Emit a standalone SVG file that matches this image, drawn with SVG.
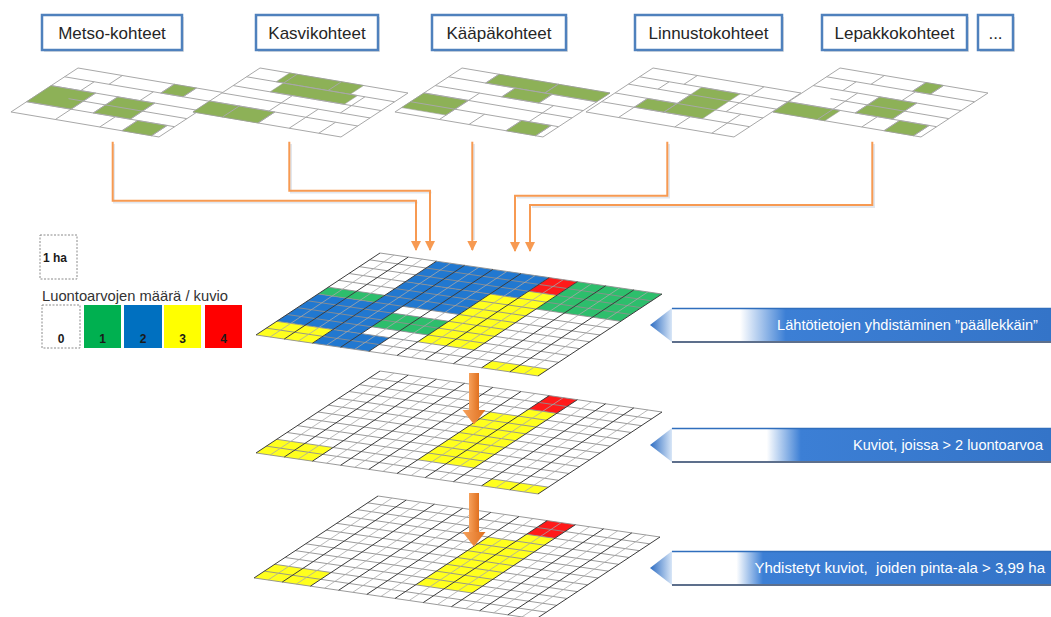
<svg xmlns="http://www.w3.org/2000/svg" width="1051" height="617" viewBox="0 0 1051 617">
<style>
text{font-family:"Liberation Sans",Arial,sans-serif}
.lbl .sh{fill:#e3e3e3;stroke:none}
.lbl .bx{fill:#fff;stroke:#4f81bd;stroke-width:2.5}
.lbl text{font-size:17px;fill:#262626;text-anchor:middle}
.fr{fill:#fff;stroke:#a8a8a8;stroke-width:1;vector-effect:non-scaling-stroke}
.ln{fill:none;stroke:#a8a8a8;stroke-width:1;vector-effect:non-scaling-stroke}
.gn{fill:#8db157;stroke:#a0a0a0;stroke-width:0.6;vector-effect:non-scaling-stroke}
.gb{fill:#2178d0}.gg{fill:#2dbe6c}.gy{fill:#ffff1e}.gr{fill:#ff1a1a}.gw{fill:#fff}
.rl{fill:none;stroke:#8f8f8f;stroke-width:0.9;vector-effect:non-scaling-stroke}
.sl{fill:none;stroke:#a8a8a8;stroke-width:0.8;vector-effect:non-scaling-stroke}
.ml{fill:none;stroke:#3c3c3c;stroke-width:1;vector-effect:non-scaling-stroke}
.conn{fill:none;stroke:#f79a52;stroke-width:2}
.csh{fill:none;stroke:#e2e7ee;stroke-width:2}
.bn text{font-size:15px;fill:#fff;text-anchor:end}
.bn .top{stroke:#2f6ebd;stroke-width:1.5}
.bn .bot{stroke:#5d6f8c;stroke-width:2}
.leg{stroke:#8a8a8a;stroke-width:1;stroke-dasharray:2 1.5}
.legn{font-size:12px;font-weight:bold;fill:#1a1a1a;text-anchor:middle}
</style>
<defs>
<marker id="ah" viewBox="0 0 10 10" refX="9" refY="5" markerUnits="userSpaceOnUse" markerWidth="10" markerHeight="10" orient="auto">
<path d="M0 0L10 5L0 10z" fill="#f79a52"/>
</marker>
<linearGradient id="og" x1="0" y1="0" x2="1" y2="0">
<stop offset="0" stop-color="#f6a15c"/><stop offset="1" stop-color="#e0701e"/>
</linearGradient>
<linearGradient id="tri" x1="0" y1="0" x2="1" y2="0">
<stop offset="0" stop-color="#2c6cc2"/><stop offset="1" stop-color="#d8e6f7"/>
</linearGradient>
<linearGradient id="bg1" x1="0" y1="0" x2="1" y2="0">
<stop offset="0" stop-color="#fff"/><stop offset="0.18" stop-color="#fff"/><stop offset="0.3" stop-color="#3c7fd5"/><stop offset="1" stop-color="#3474c8"/>
</linearGradient>
<linearGradient id="bg2" x1="0" y1="0" x2="1" y2="0">
<stop offset="0" stop-color="#fff"/><stop offset="0.25" stop-color="#fff"/><stop offset="0.34" stop-color="#3c7fd5"/><stop offset="1" stop-color="#3474c8"/>
</linearGradient>
<linearGradient id="bg3" x1="0" y1="0" x2="1" y2="0">
<stop offset="0" stop-color="#fff"/><stop offset="0.17" stop-color="#fff"/><stop offset="0.24" stop-color="#3c7fd5"/><stop offset="1" stop-color="#3474c8"/>
</linearGradient>
<g id="mlines">
<path class="rl" d="M0 0H20M0 1H20M0 2H20M0 3H20M0 4H20M0 5H20M0 6H20M0 7H20M0 8H20M0 9H20M0 10H20M0 11H20M0 12H20"/>
<path class="sl" d="M1 0V12M3 0V12M5 0V12M7 0V12M9 0V12M11 0V12M13 0V12M15 0V12M17 0V12M19 0V12"/>
<path class="ml" d="M0 0V12M2 0V12M4 0V12M6 0V12M8 0V12M10 0V12M12 0V12M14 0V12M16 0V12M18 0V12M20 0V12"/>
</g>
</defs>

<g id="label-metso" class="lbl"><rect class="sh" x="44" y="17" width="140" height="35"/><rect class="bx" x="42" y="15" width="140" height="35"/><text x="112" y="39">Metso-kohteet</text></g>
<g id="label-kasvi" class="lbl"><rect class="sh" x="258" y="17" width="122" height="35"/><rect class="bx" x="256" y="15" width="122" height="35"/><text x="317" y="39">Kasvikohteet</text></g>
<g id="label-kaapa" class="lbl"><rect class="sh" x="434" y="17" width="134" height="35"/><rect class="bx" x="432" y="15" width="134" height="35"/><text x="499" y="39">Kääpäkohteet</text></g>
<g id="label-linnusto" class="lbl"><rect class="sh" x="637" y="17" width="147" height="35"/><rect class="bx" x="635" y="15" width="147" height="35"/><text x="708.5" y="39">Linnustokohteet</text></g>
<g id="label-lepakko" class="lbl"><rect class="sh" x="824" y="17" width="145" height="35"/><rect class="bx" x="822" y="15" width="145" height="35"/><text x="894.5" y="39">Lepakkokohteet</text></g>
<g id="label-more" class="lbl"><rect class="sh" x="980" y="17" width="35" height="35"/><rect class="bx" x="978" y="15" width="35" height="35"/><text x="995.5" y="39">...</text></g>

<g id="map-metso" transform="matrix(14.8 2.5 -11.17 7.33 78 68)">
<rect class="fr" width="10" height="6"/>
<rect class="gn" x="0" y="2.4" width="3" height="2.2"/><rect class="gn" x="6.5" y="0" width="1.5" height="1.2"/><rect class="gn" x="4.5" y="2.4" width="2.5" height="2.2"/><rect class="gn" x="7.5" y="4.6" width="2" height="1.4"/>
<path class="ln" d="M0 1.2H10M0 2.4H10M2 3.5H10M0 4.6H10M3 0V1.2M6.5 0V1.2M8 0V1.2M2 1.2V2.4M6 1.2V2.4M3 2.4V6M4.5 2.4V4.6M7 2.4V4.6M6 4.6V6M7.5 4.6V6M9.5 4.6V6"/>
</g>
<g id="map-kasvi" transform="matrix(14.8 2.5 -11.17 7.33 260 68)">
<rect class="fr" width="10" height="6"/>
<rect class="gn" x="2" y="0" width="5" height="1.2"/><rect class="gn" x="2.5" y="1.2" width="5" height="1.2"/><rect class="gn" x="0" y="4.5" width="4.4" height="1.5"/>
<path class="ln" d="M0 1.2H10M0 2.4H10M0 3.4H10M0 4.5H10M2.5 0V1.2M5.5 0V1.2M8 1.2V3.4M4 2.4V4.5M6.5 3.4V6M2 4.5V6M4.4 4.5V6M8.5 4.5V6"/>
</g>
<g id="map-kaapa" transform="matrix(14.8 2.5 -11.17 7.33 462 68)">
<rect class="fr" width="10" height="6"/>
<rect class="gn" x="0" y="3.4" width="3" height="2"/><rect class="gn" x="2.5" y="0" width="4" height="1.2"/><rect class="gn" x="6.5" y="0" width="3.5" height="1.2"/><rect class="gn" x="4.5" y="1.2" width="2.5" height="1.2"/><rect class="gn" x="7.5" y="4.6" width="2" height="1.4"/>
<path class="ln" d="M0 1.2H10M0 2.4H10M0 3.4H10M0 4.6H10M2.5 0V1.2M6.5 0V1.2M4.5 1.2V2.4M7 1.2V2.4M3 2.4V3.4M8 2.4V4.6M3 3.4V6M5 4.6V6M7.5 4.6V6M9.5 4.6V6"/>
</g>
<g id="map-linnusto" transform="matrix(14.8 2.5 -11.17 7.33 653 68)">
<rect class="fr" width="10" height="6"/>
<rect class="gn" x="2.2" y="3.4" width="2" height="1.2"/><rect class="gn" x="4.2" y="1.2" width="2.6" height="3.4"/>
<path class="ln" d="M0 1.2H10M0 2.2H10M0 3.4H10M0 4.6H10M3 0V1.2M7.5 0V2.2M2 1.2V2.2M4.2 2.2V4.6M7.5 2.2V3.4M2.2 3.4V6M6 4.6V6M8.5 3.4V6"/>
</g>
<g id="map-lepakko" transform="matrix(14.8 2.5 -11.17 7.33 840 68)">
<rect class="fr" width="10" height="6"/>
<rect class="gn" x="0" y="4.6" width="3.5" height="1.4"/><rect class="gn" x="5.8" y="0" width="1.2" height="1.2"/><rect class="gn" x="4.5" y="2.4" width="2.5" height="2.2"/><rect class="gn" x="7.5" y="4.6" width="2" height="1.4"/>
<path class="ln" d="M0 1.2H10M0 2.4H10M2 3.5H10M0 4.6H10M3 0V1.2M5.8 0V1.2M7 0V1.2M2 1.2V2.4M6 1.2V2.4M3 2.4V6M4.5 2.4V4.6M7 2.4V4.6M6 4.6V6M7.5 4.6V6M9.5 4.6V6"/>
</g>

<g id="legend">
<rect class="leg" x="40" y="235" width="37" height="44" fill="#fff"/>
<text x="43" y="262" font-size="12" font-weight="bold" fill="#1a1a1a">1 ha</text>
<text x="42" y="301" font-size="15" fill="#333" textLength="186" lengthAdjust="spacingAndGlyphs">Luontoarvojen määrä / kuvio</text>
<rect class="leg" x="42" y="305" width="38" height="43" fill="#fff"/>
<rect x="84" y="305" width="37" height="43" fill="#00b050"/>
<rect x="124" y="305" width="38" height="43" fill="#0070c0"/>
<rect x="164" y="305" width="37" height="43" fill="#ffff00"/>
<rect x="205" y="305" width="37" height="43" fill="#ff0000"/>
<text class="legn" x="61" y="343">0</text><text class="legn" x="102.5" y="343">1</text><text class="legn" x="143" y="343">2</text><text class="legn" x="182.5" y="343">3</text><text class="legn" x="223.5" y="343">4</text>
</g>

<g id="grid-overlay" transform="matrix(14.1 2.05 -10.33 6.83 380 253)">
<rect class="gw" width="20" height="12"/>
<rect class="gb" x="4" y="0" width="8" height="3"/>
<rect class="gb" x="4" y="3" width="6" height="7"/>
<rect class="gb" x="0" y="6" width="4" height="4"/>
<rect class="gb" x="4" y="10" width="4" height="2"/>
<rect class="gg" x="0" y="5" width="4" height="1"/>
<rect class="gg" x="14" y="0" width="6" height="4"/>
<rect class="gg" x="6" y="7" width="4" height="2"/>
<rect class="gw" x="6" y="6" width="4" height="1"/>
<rect class="gw" x="6" y="9" width="4" height="1"/>
<rect class="gy" x="12" y="2" width="2" height="1"/>
<rect class="gy" x="10" y="3" width="4" height="7"/>
<rect class="gy" x="0" y="10" width="4" height="2"/>
<rect class="gy" x="16" y="11" width="4" height="1"/>
<rect class="gr" x="12" y="0" width="2" height="2"/>
<use href="#mlines"/>
</g>

<g id="grid-selected" transform="matrix(14.1 2.05 -10.33 6.83 380 371)">
<rect class="gw" width="20" height="12"/>
<rect class="gy" x="12" y="2" width="2" height="1"/>
<rect class="gy" x="10" y="3" width="4" height="7"/>
<rect class="gy" x="0" y="10" width="4" height="2"/>
<rect class="gy" x="16" y="11" width="4" height="1"/>
<rect class="gr" x="12" y="0" width="2" height="2"/>
<use href="#mlines"/>
</g>

<g id="grid-merged" transform="matrix(14.1 2.05 -10.33 6.83 378 496)">
<rect class="gw" width="20" height="12"/>
<rect class="gy" x="12" y="2" width="2" height="1"/>
<rect class="gy" x="10" y="3" width="4" height="7"/>
<rect class="gy" x="0" y="10" width="4" height="2"/>
<rect class="gr" x="12" y="0" width="2" height="2"/>
<use href="#mlines"/>
</g>

<g id="connectors">
<path class="csh" d="M114 144V202.5H417.5M291 144V192.5H431.5M474 144V240M669 144V197.5H517M874 144V207H532"/>
<path class="conn" d="M112.7 141.7V200.7H416V250" marker-end="url(#ah)"/>
<path class="conn" d="M289.3 141.7V190.7H430V250" marker-end="url(#ah)"/>
<path class="conn" d="M472.3 141.7V250" marker-end="url(#ah)"/>
<path class="conn" d="M667.3 141.7V195.7H515V251" marker-end="url(#ah)"/>
<path class="conn" d="M872.3 141.7V205H530V251" marker-end="url(#ah)"/>
<g id="flow-arrow-1"><rect x="469" y="373" width="10" height="38" fill="url(#og)"/><path d="M462.5 410H485.5L474 424.5Z" fill="url(#og)"/></g>
<g id="flow-arrow-2"><rect x="469" y="493" width="10" height="40" fill="url(#og)"/><path d="M462.5 532H485.5L474 546.5Z" fill="url(#og)"/></g>
</g>

<g id="banner-1" class="bn">
<path d="M650 325L672 308V342Z" fill="url(#tri)"/>
<rect x="672" y="308" width="379" height="34" fill="url(#bg1)"/>
<line class="top" x1="672" y1="308.5" x2="1051" y2="308.5"/>
<line class="bot" x1="672" y1="342" x2="1051" y2="342"/>
<text x="1038" y="330" textLength="261" lengthAdjust="spacingAndGlyphs">Lähtötietojen yhdistäminen ”päällekkäin”</text>
</g>
<g id="banner-2" class="bn">
<path d="M650 445L672 428V462Z" fill="url(#tri)"/>
<rect x="672" y="428" width="379" height="34" fill="url(#bg2)"/>
<line class="top" x1="672" y1="428.5" x2="1051" y2="428.5"/>
<line class="bot" x1="672" y1="462" x2="1051" y2="462"/>
<text x="1043" y="450" textLength="190" lengthAdjust="spacingAndGlyphs">Kuviot, joissa &gt; 2 luontoarvoa</text>
</g>
<g id="banner-3" class="bn">
<path d="M650 568L672 551V585Z" fill="url(#tri)"/>
<rect x="672" y="551" width="379" height="34" fill="url(#bg3)"/>
<line class="top" x1="672" y1="551.5" x2="1051" y2="551.5"/>
<line class="bot" x1="672" y1="585" x2="1051" y2="585"/>
<text x="1045" y="573" font-size="13.5" xml:space="preserve">Yhdistetyt kuviot,  joiden pinta-ala &gt; 3,99 ha</text>
</g>
</svg>
